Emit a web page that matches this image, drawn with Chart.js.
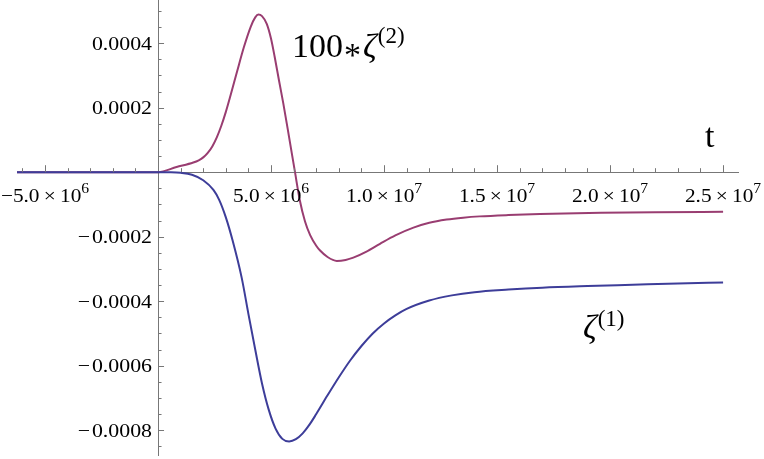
<!DOCTYPE html>
<html>
<head>
<meta charset="utf-8">
<script src="https://cdn.jsdelivr.net/npm/chart.js@4.4.0/dist/chart.umd.min.js"></script>
<style>
  html, body { margin: 0; padding: 0; background: #fff; }
</style>
</head>
<body>
<canvas id="c" width="764" height="459"></canvas>
<script>
// zeta^(1): time (s) and value
const t1 = [-6.24e6, 0, 0.5e6, 1.0e6, 1.5e6, 2.0e6, 2.45e6, 2.7e6, 3.0e6, 3.3e6, 3.7e6, 4.0e6, 4.3e6, 4.6e6, 4.9e6,
            5.2e6, 5.5e6, 5.8e6, 6.1e6, 6.4e6, 6.7e6, 7.0e6, 7.5e6, 8.0e6, 8.5e6, 9.0e6, 9.5e6, 10.0e6, 10.5e6, 11.0e6,
            12.0e6, 13.0e6, 14.0e6, 15.5e6, 17.0e6, 19.0e6, 21.0e6, 23.0e6, 25.0e6];
const zeta1 = [0, 0, -0.3e-6, -2e-6, -8e-6, -25e-6, -55e-6, -85e-6, -140e-6, -212e-6, -327e-6, -440e-6, -550e-6, -655e-6, -737e-6,
               -795e-6, -827e-6, -835e-6, -828e-6, -810e-6, -783e-6, -750e-6, -692e-6, -636e-6, -584e-6, -539e-6, -500e-6, -469e-6, -444e-6, -424e-6,
               -398e-6, -382e-6, -372e-6, -364e-6, -358e-6, -353e-6, -349e-6, -345e-6, -342e-6];

// 100 * zeta^(2)
const t2 = [-6.24e6, 0, 0.82e6, 1.56e6, 1.8e6, 2.0e6, 2.2e6, 2.4e6, 2.6e6, 2.8e6, 3.0e6, 3.2e6, 3.5e6, 3.8e6, 4.1e6,
            4.3e6, 4.44e6, 4.6e6, 4.81e6, 5.0e6, 5.16e6, 5.35e6, 5.54e6, 5.8e6, 6.06e6, 6.27e6, 6.5e6, 6.73e6, 7.0e6,
            7.17e6, 7.5e6, 7.91e6, 8.3e6, 8.64e6, 9.2e6, 9.82e6, 10.5e6, 11.3e6, 12.0e6, 12.77e6, 13.5e6, 14.23e6,
            15.5e6, 16.9e6, 19.6e6, 22.0e6, 25.0e6];
const zeta2x100 = [0, 0, 16e-6, 30e-6, 37e-6, 46e-6, 60e-6, 80e-6, 108e-6, 144e-6, 187e-6, 236e-6, 313e-6, 388e-6, 451e-6,
                   480e-6, 489e-6, 484e-6, 460e-6, 414e-6, 358e-6, 285e-6, 214e-6, 108e-6, 0, -86e-6, -152e-6, -195e-6, -228e-6,
                   -243e-6, -263e-6, -275e-6, -272e-6, -265e-6, -247e-6, -222e-6, -196e-6, -172e-6, -157e-6, -147e-6, -141e-6, -137e-6,
                   -133e-6, -130e-6, -126e-6, -124e-6, -123e-6];

// tick labels
const xTickVals = [-5e6, 5e6, 1e7, 1.5e7, 2e7, 2.5e7];
const xTickMant = ['\u22125.0', '5.0', '1.0', '1.5', '2.0', '2.5'];
const xTickExp = ['6', '6', '7', '7', '7', '7'];
const yTickVals = [0.0004, 0.0002, -0.0002, -0.0004, -0.0006, -0.0008];
const yTickText = ['0.0004', '0.0002', '\u2212\u200A0.0002', '\u2212\u200A0.0004', '\u2212\u200A0.0006', '\u2212\u200A0.0008'];

const blue = '#3d3d99';
const purple = '#993d71';
const axisColor = '#777';
const serif = '"Liberation Serif", "DejaVu Serif", serif';

function pts(xs, ys) {
  return xs.map((x, i) => ({ x: x, y: ys[i] }));
}

function stretchText(ctx, str, x, y, align, sx) {
  const w = ctx.measureText(str).width * sx;
  let left = x;
  if (align === 'center') left = x - w / 2;
  if (align === 'right') left = x - w;
  ctx.save();
  ctx.translate(left, y);
  ctx.scale(sx, 1);
  ctx.textAlign = 'left';
  ctx.fillText(str, 0, 0);
  ctx.restore();
  return w;
}

const axesPlugin = {
  id: 'mmaAxes',
  afterDraw(chart) {
    const ctx = chart.ctx;
    const xs = chart.scales.x, ys = chart.scales.y;
    const x0 = xs.getPixelForValue(0), y0 = ys.getPixelForValue(0);
    ctx.save();
    ctx.strokeStyle = axisColor;
    ctx.lineWidth = 1;
    // x ticks (pointing up)
    for (let k = -6; k <= 25; k++) {
      if (k === 0) continue;
      const px = Math.round(xs.getPixelForValue(k * 1e6)) + 0.5;
      const len = k % 5 === 0 ? 7 : 4;
      ctx.beginPath();
      ctx.moveTo(px, y0);
      ctx.lineTo(px, y0 - len);
      ctx.stroke();
    }
    // y ticks (pointing right)
    for (let k = -17; k <= 10; k++) {
      if (k === 0) continue;
      const py = Math.round(ys.getPixelForValue(k * 5e-5)) + 0.5;
      const len = k % 4 === 0 ? 6 : 3.5;
      ctx.beginPath();
      ctx.moveTo(x0, py);
      ctx.lineTo(x0 + len, py);
      ctx.stroke();
    }
    ctx.fillStyle = '#000';
    ctx.textBaseline = 'alphabetic';
    // x tick labels
    xTickVals.forEach((v, i) => {
      const px = xs.getPixelForValue(v);
      ctx.font = '19px ' + serif;
      const main = xTickMant[i] + '\u2009\u00d7\u200910';
      const sx = 1.12;
      const wMain = ctx.measureText(main).width * sx;
      ctx.font = '14px ' + serif;
      const wExp = ctx.measureText(xTickExp[i]).width * sx;
      const left = px - (wMain + wExp) / 2;
      ctx.font = '19px ' + serif;
      stretchText(ctx, main, left, y0 + 30, 'left', sx);
      ctx.font = '14px ' + serif;
      stretchText(ctx, xTickExp[i], left + wMain, y0 + 21, 'left', sx);
    });
    // y tick labels
    ctx.font = '19px ' + serif;
    yTickVals.forEach((v, i) => {
      const py = ys.getPixelForValue(v);
      stretchText(ctx, yTickText[i], x0 - 6, py + 6.5, 'right', 1.15);
    });
    // curve and axis labels
    let px = xs.getPixelForValue(5.93e6), py = ys.getPixelForValue(3.58e-4);
    ctx.font = '34px ' + serif;
    ctx.textAlign = 'left';
    ctx.fillText('100', px, py);
    px += ctx.measureText('100').width;
    ctx.fillText('*', px + 1, py + 9);
    px += ctx.measureText('*').width + 3;
    ctx.font = 'italic 34px ' + serif;
    ctx.fillText('\u03b6', px, py);
    px += ctx.measureText('\u03b6').width;
    ctx.font = '23px ' + serif;
    ctx.fillText('(2)', px + 1, py - 14);

    px = xs.getPixelForValue(18.8e6); py = ys.getPixelForValue(-5.14e-4);
    ctx.font = 'italic 34px ' + serif;
    ctx.fillText('\u03b6', px, py);
    px += ctx.measureText('\u03b6').width;
    ctx.font = '23px ' + serif;
    ctx.fillText('(1)', px + 1, py - 12);

    px = xs.getPixelForValue(24.2e6); py = ys.getPixelForValue(7.8e-5);
    ctx.font = '34px ' + serif;
    ctx.fillText('t', px, py);
    ctx.restore();
  }
};

new Chart(document.getElementById('c').getContext('2d'), {
  type: 'line',
  data: {
    datasets: [
      {
        label: 'zeta1',
        data: pts(t1, zeta1),
        borderColor: blue,
        borderWidth: 2,
        pointRadius: 0,
        cubicInterpolationMode: 'monotone',
        fill: false
      },
      {
        label: '100*zeta2',
        data: pts(t2, zeta2x100),
        borderColor: purple,
        borderWidth: 2,
        pointRadius: 0,
        cubicInterpolationMode: 'monotone',
        fill: false
      }
    ]
  },
  options: {
    responsive: false,
    animation: false,
    devicePixelRatio: 1,
    layout: { padding: { left: 17, right: 26, top: 0, bottom: 4 } },
    plugins: { legend: { display: false }, tooltip: { enabled: false } },
    scales: {
      x: {
        type: 'linear',
        min: -6.24e6,
        max: 25.66e6,
        position: { y: 0 },
        grid: { display: false, drawTicks: false },
        border: { display: true, color: axisColor, width: 1 },
        ticks: { display: false }
      },
      y: {
        type: 'linear',
        min: -0.000877,
        max: 0.000534,
        position: { x: 0 },
        grid: { display: false, drawTicks: false },
        border: { display: true, color: axisColor, width: 1 },
        ticks: { display: false }
      }
    }
  },
  plugins: [axesPlugin]
});
</script>
</body>
</html>
